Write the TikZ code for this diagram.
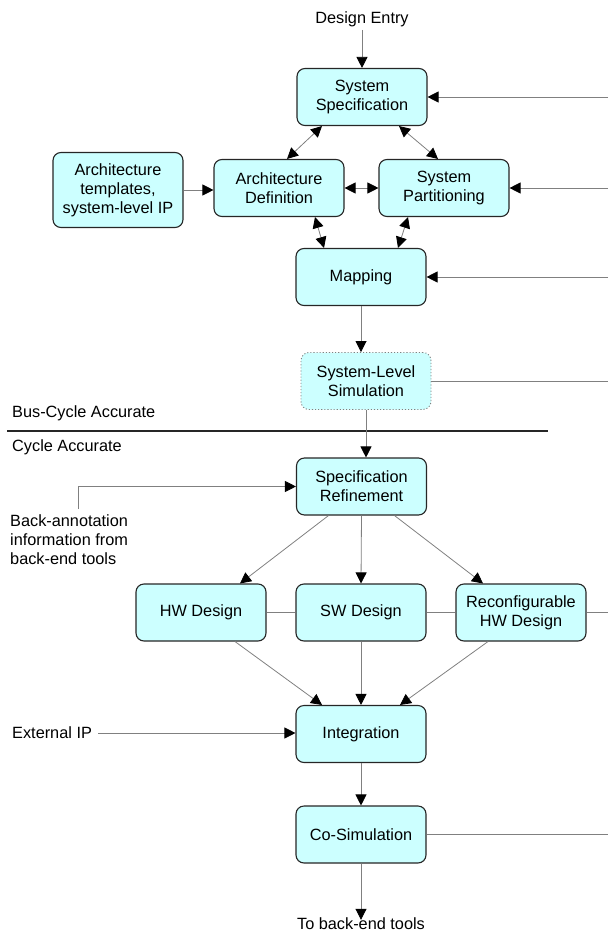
\documentclass[tikz,border=0pt]{standalone}
\usepackage{fontspec}
\setmainfont{Liberation Sans}
\usetikzlibrary{arrows.meta,calc}
\definecolor{boxfill}{HTML}{CCFFFF}
\definecolor{conncol}{HTML}{808080}
\tikzset{
  txt/.style={font=\fontsize{16.3}{19}\selectfont, inner sep=0pt, align=center},
  box/.style={txt, draw=black!85, line width=1.1pt, fill=boxfill, rounded corners=8pt,
    minimum width=130pt, minimum height=57pt},
  dbox/.style={box, draw=conncol, dotted, line width=0.9pt},
  conn/.style={draw=conncol, line width=0.8pt},
  tip/.style={-{Triangle[length=11pt,width=11pt,color=black]}},
  tips/.style={{Triangle[length=11pt,width=11pt,color=black]}-{Triangle[length=11pt,width=11pt,color=black]}},
}
\begin{document}
\begin{tikzpicture}[x=1pt,y=-1pt]
\useasboundingbox (0,0) rectangle (608,933);
\coordinate (rx) at (608,0);

% nodes
\node[txt] (de) at (362,19) {Design Entry};
\node[box] (ss) at (362,97) {System\\Specification};
\node[box] (ad) at (279,188) {Architecture\\Definition};
\node[box] (sp) at (444,188) {System\\Partitioning};
\node[box, minimum height=75pt] (at) at (118,190) {Architecture\\templates,\\system-level IP};
\node[box] (mp) at (361,277) {Mapping};
\node[dbox] (sls) at (366,381) {System-Level\\Simulation};
\node[txt, anchor=west] (bus) at (12,413) {Bus-Cycle Accurate};
\node[txt, anchor=west] (cyc) at (12,447) {Cycle Accurate};
\coordinate (sepL) at (7,431);
\coordinate (sepR) at (548,431);
\node[box] (sr) at (361.5,486.5) {Specification\\Refinement};
\node[txt, align=left, anchor=west] (ba) at (10,539.5) {Back-annotation\\information from\\back-end tools};
\coordinate (baTop) at (78,509);
\node[box] (hw) at (201,612.5) {HW Design};
\node[box] (sw) at (361,612.5) {SW Design};
\node[box] (rc) at (521,612.5) {Reconfigurable\\HW Design};
\node[txt, anchor=west] (ext) at (12,733) {External IP};
\node[box] (int) at (361,734) {Integration};
\node[box] (cs) at (361,834.5) {Co-Simulation};
\node[txt] (tb) at (361,924) {To back-end tools};

% separator
\draw[line width=1.4pt, black!85] (sepL) -- (sepR);

% connectors
\draw[conn,tip] (de.south) ++(0,3) -- (ss.north);
\draw[conn,tips] ([xshift=-40pt]ss.south) -- ([xshift=8pt]ad.north);
\draw[conn,tips] ([xshift=37pt]ss.south) -- ([xshift=-6pt]sp.north);
\draw[conn,tips] (ad.east) -- (sp.west);
\draw[conn,tip] (at.east) -- (at.east -| ad.west);
\draw[conn,tips] ([xshift=36pt]ad.south) -- ([xshift=-37pt]mp.north);
\draw[conn,tips] ([xshift=-36pt]sp.south) -- ([xshift=37pt]mp.north);
\draw[conn,tip] (mp.south) -- (mp.south |- sls.north);
\draw[conn,tip] (sls.south) -- (sls.south |- sr.north);

\draw[conn,tip] (ss.east -| rx) -- (ss.east);
\draw[conn,tip] (sp.east -| rx) -- (sp.east);
\draw[conn,tip] (mp.east -| rx) -- (mp.east);
\draw[conn] (sls.east) -- (sls.east -| rx);

\draw[conn,tip] (baTop) -- (baTop |- sr.west) -- (sr.west);
\draw[conn,tip] ([xshift=-33pt]sr.south) -- ([xshift=39pt]hw.north);
\draw[conn,tip] (sr.south) -- (sw.north);
\draw[conn,tip] ([xshift=33pt]sr.south) -- ([xshift=-38pt]rc.north);

\draw[conn] (hw.east) -- (sw.west);
\draw[conn] (sw.east) -- (rc.west);
\draw[conn] (rc.east) -- (rc.east -| rx);

\draw[conn,tip] ([xshift=34pt]hw.south) -- ([xshift=-39pt]int.north);
\draw[conn,tip] (sw.south) -- (int.north);
\draw[conn,tip] ([xshift=-33pt]rc.south) -- ([xshift=39pt]int.north);
\draw[conn,tip] ([xshift=6pt]ext.east) -- (ext.east -| int.west);

\draw[conn,tip] (int.south) -- (cs.north);
\draw[conn] (cs.east) -- (cs.east -| rx);
\draw[conn,tip] (cs.south) -- ([yshift=-2pt]tb.north);
\end{tikzpicture}
\end{document}
